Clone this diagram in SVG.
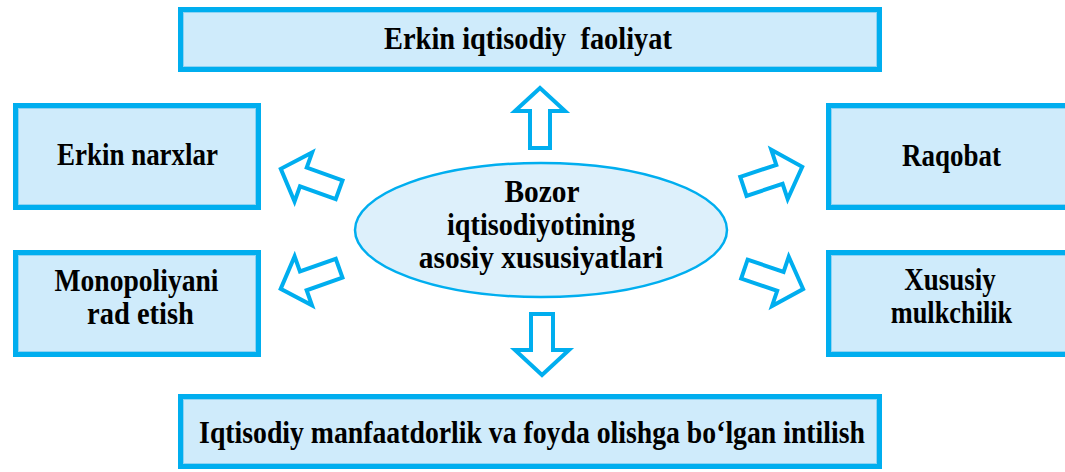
<svg xmlns="http://www.w3.org/2000/svg" width="1065" height="472" viewBox="0 0 1065 472">
<defs>
<style>
.box{fill:#CFEBFB;stroke:#00AEEF;stroke-width:5}
.inner{fill:none;stroke:#8FD3F3;stroke-width:1}
.arr{fill:#FFFFFF;stroke:#00AEEF;stroke-width:4;stroke-linejoin:miter}
text{font-family:"Liberation Serif","Times New Roman",serif;font-weight:bold;font-size:31px;fill:#000000;text-anchor:middle}
</style>
<path id="sa" d="M2,-10 L40,-10 L40,-26 L64,0 L40,26 L40,10 L2,10 Z"/>
</defs>
<rect width="1065" height="472" fill="#FFFFFF"/>

<g id="connectors">
<path class="arr" d="M530,148 L530,111 L515,111 L540,88 L565,111 L550,111 L550,148 Z"/>
<path class="arr" d="M531,314 L553,314 L553,350 L569,350 L542,375 L515,350 L531,350 Z"/>
<use href="#sa" class="arr" transform="translate(341,190.5) rotate(199.8)"/>
<use href="#sa" class="arr" transform="translate(341,267.5) rotate(160.5)"/>
<use href="#sa" class="arr" transform="translate(741.5,187) rotate(-18.4)"/>
<use href="#sa" class="arr" transform="translate(742.5,268.5) rotate(18.7)"/>
</g>

<g id="center">
<ellipse cx="541" cy="230" rx="186" ry="67" fill="#DDF0FB" stroke="#00AEEF" stroke-width="2.5"/>
<text transform="translate(542,202) scale(0.95,1)">Bozor</text>
<text transform="translate(541,235) scale(0.91,1)">iqtisodiyotining</text>
<text transform="translate(541,268) scale(0.95,1)">asosiy xususiyatlari</text>
</g>

<g id="top">
<rect class="box" x="180.5" y="9.5" width="699" height="60"/>
<rect class="inner" x="183.5" y="12.5" width="693" height="54"/>
<text transform="translate(528,49) scale(0.916,1)" xml:space="preserve">Erkin iqtisodiy  faoliyat</text>
</g>

<g id="erkin-narxlar">
<rect class="box" x="15.5" y="105.5" width="243" height="102"/>
<rect class="inner" x="18.5" y="108.5" width="237" height="96"/>
<text transform="translate(137.5,165) scale(0.87,1)">Erkin narxlar</text>
</g>

<g id="monopoliya">
<rect class="box" x="15.5" y="252.5" width="243" height="102"/>
<rect class="inner" x="18.5" y="255.5" width="237" height="96"/>
<text transform="translate(136.5,291) scale(0.89,1)">Monopoliyani</text>
<text transform="translate(140.5,324) scale(0.92,1)">rad etish</text>
</g>

<g id="raqobat">
<rect class="box" x="828.5" y="105.5" width="243" height="102"/>
<rect class="inner" x="831.5" y="108.5" width="237" height="96"/>
<text transform="translate(951.5,166) scale(0.87,1)">Raqobat</text>
</g>

<g id="xususiy">
<rect class="box" x="828.5" y="252.5" width="243" height="102"/>
<rect class="inner" x="831.5" y="255.5" width="237" height="96"/>
<text transform="translate(950,290) scale(0.87,1)">Xususiy</text>
<text transform="translate(951.5,323) scale(0.85,1)">mulkchilik</text>
</g>

<g id="bottom">
<rect class="box" x="180.5" y="396.5" width="699" height="70"/>
<rect class="inner" x="183.5" y="399.5" width="693" height="64"/>
<text transform="translate(532,443) scale(0.895,1)">Iqtisodiy manfaatdorlik va foyda olishga bo‘lgan intilish</text>
</g>
</svg>
